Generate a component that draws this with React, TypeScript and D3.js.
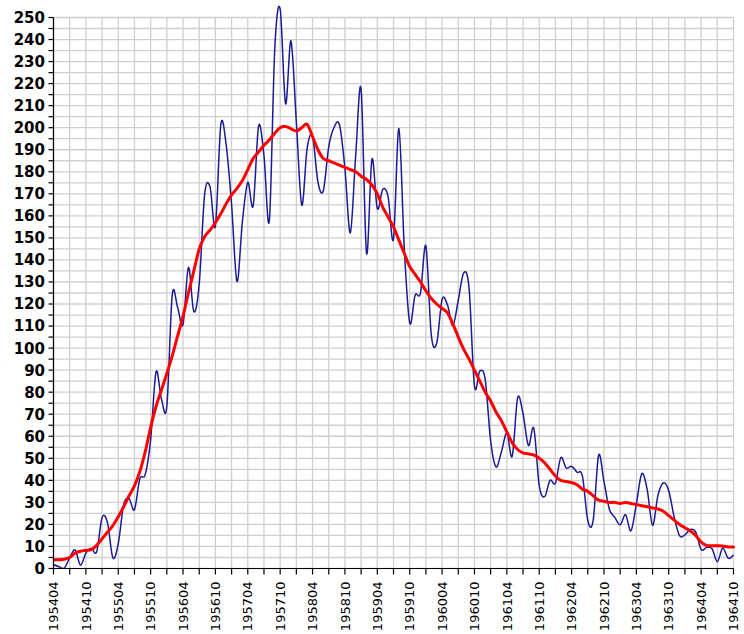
import React from "react";
import * as d3 from "d3";

// Month tick labels (every 6 months)
const tickLabels = [
  "195404", "195410", "195504", "195510", "195604", "195610", "195704", "195710",
  "195804", "195810", "195904", "195910", "196004", "196010", "196104", "196110",
  "196204", "196210", "196304", "196310", "196404", "196410",
];

// Monthly sunspot numbers, 1954-04 .. 1964-10
const monthly = [
  1.8, 0.8, 0.2, 4.8, 8.4, 1.5, 7.0, 9.2, 7.6,
  23.1, 20.8, 4.9, 11.3, 28.9, 31.7, 26.7, 40.7, 42.7, 58.5, 89.2, 76.9,
  73.6, 124.0, 118.4, 110.7, 136.6, 116.6, 129.1, 169.6, 173.2, 155.3, 201.3, 192.1,
  165.0, 130.2, 157.4, 175.2, 164.6, 200.7, 187.2, 158.0, 235.8, 253.8, 210.9, 239.4,
  202.5, 164.9, 190.7, 196.0, 175.3, 171.5, 191.4, 200.2, 201.2, 181.5, 152.3, 187.6,
  217.4, 143.1, 185.7, 163.3, 172.0, 168.7, 149.6, 199.6, 145.2, 111.4, 124.0, 125.0,
  146.3, 106.0, 102.2, 122.0, 119.6, 110.2, 121.7, 134.1, 127.2, 82.8, 89.6, 85.6,
  57.9, 46.1, 53.0, 61.4, 51.0, 77.4, 70.2, 55.8, 63.6, 37.7, 32.6, 40.0,
  38.7, 50.3, 45.6, 46.4, 43.7, 42.0, 21.8, 21.8, 51.3, 39.5, 26.9, 23.2,
  19.8, 24.4, 17.1, 29.3, 43.0, 35.9, 19.6, 33.2, 38.8, 35.3, 23.4, 14.9,
  15.3, 17.7, 16.5, 8.6, 9.5, 9.1, 3.1, 9.3, 4.7, 6.1,
];

// Smoothed (13-month) sunspot numbers, same months
const smoothed = [
  4, 4, 4.2, 5, 7, 7.8, 8.2, 8.5, 10.5,
  13.5, 16.5, 19.5, 23.5, 28, 33, 37.5, 44, 53, 64, 73.5, 81,
  88.5, 96.5, 105.5, 114.5, 125, 135, 145, 150.5, 153.5, 157, 161, 165.5,
  169.5, 172.5, 176, 181, 186, 189, 192, 194.5, 197.5, 200, 200.5, 199.5,
  198.5, 200, 201.5, 196, 190, 186, 185, 184, 183, 182, 181, 180,
  178, 176.5, 174, 170, 164, 159.5, 155, 149, 143, 137, 133.5, 130,
  126, 122.5, 120, 118, 116, 111, 105, 99.5, 95, 90, 85, 80,
  76, 71, 67, 62, 57, 54, 52.5, 52, 51.5, 50, 48, 45,
  42, 40, 39.5, 39, 38, 36, 35, 33, 31, 30.5, 30, 30,
  29.5, 30, 29.5, 29, 28.5, 28, 27.5, 27, 26, 24, 22, 20,
  18.5, 17, 15, 12, 10.5, 10.3, 10.3, 10.2, 9.8, 9.7,
];

const W = 744;
const H = 634;
const left = 53.5;
const right = 733.5;
const top = 17.5;
const bottom = 568.5;

export default function App() {
  const x = d3.scaleLinear().domain([0, monthly.length - 1]).range([left, right]);
  const y = d3.scaleLinear().domain([0, 250]).range([bottom, top]);
  const line = d3
    .line<number>()
    .x((_, i) => x(i))
    .y((d) => y(d))
    .curve(d3.curveCardinal.tension(0));

  const yGrid = d3.range(0, 251, 5);
  const yLabels = d3.range(0, 251, 10);
  const xGrid = d3.range(0, monthly.length, 3);
  const xLabelIdx = tickLabels.map((_, k) => k * 6);

  return (
    <svg
      width={W}
      height={H}
      style={{ position: "absolute", left: 0, top: 0, background: "#fff" }}
    >
      <defs>
        <clipPath id="plot">
          <rect x={left} y={top - 20} width={right - left + 2} height={bottom - top + 20} />
        </clipPath>
      </defs>
      <g stroke="#cfcfcf" strokeWidth={1.3}>
        {yGrid.map((v) => (
          <line key={"h" + v} x1={left} x2={right} y1={y(v)} y2={y(v)} />
        ))}
        {xGrid.map((i) => (
          <line key={"v" + i} x1={x(i)} x2={x(i)} y1={top} y2={bottom} />
        ))}
      </g>
      <g clipPath="url(#plot)" fill="none">
        <path d={line(monthly) ?? ""} stroke="#1b1b95" strokeWidth={1.5} />
        <path
          d={line(smoothed) ?? ""}
          stroke="#ff0000"
          strokeWidth={3}
          strokeLinejoin="round"
          strokeLinecap="round"
        />
      </g>
      <g stroke="#000" strokeWidth={1.2}>
        <line x1={left} x2={left} y1={top} y2={bottom} />
        <line x1={left} x2={right} y1={bottom} y2={bottom} />
        {yGrid.map((v) => (
          <line key={"yt" + v} x1={left - 5} x2={left} y1={y(v)} y2={y(v)} />
        ))}
        {xGrid.map((i) => (
          <line key={"xt" + i} x1={x(i)} x2={x(i)} y1={bottom} y2={bottom + 6} />
        ))}
      </g>
      <g
        fontFamily="'DejaVu Sans', Verdana, sans-serif"
        fontWeight="bold"
        fontSize={15}
        fill="#000"
        textAnchor="end"
      >
        {yLabels.map((v) => (
          <text key={"yl" + v} x={45} y={y(v)} dy="0.36em">
            {v}
          </text>
        ))}
      </g>
      <g
        fontFamily="'DejaVu Sans', Verdana, sans-serif"
        fontSize={13}
        fill="#000"
        textAnchor="end"
      >
        {xLabelIdx.map((i, k) => (
          <text
            key={"xl" + i}
            transform={`translate(${x(i)},${bottom + 13}) rotate(-90)`}
            dy="0.36em"
          >
            {tickLabels[k]}
          </text>
        ))}
      </g>
    </svg>
  );
}
